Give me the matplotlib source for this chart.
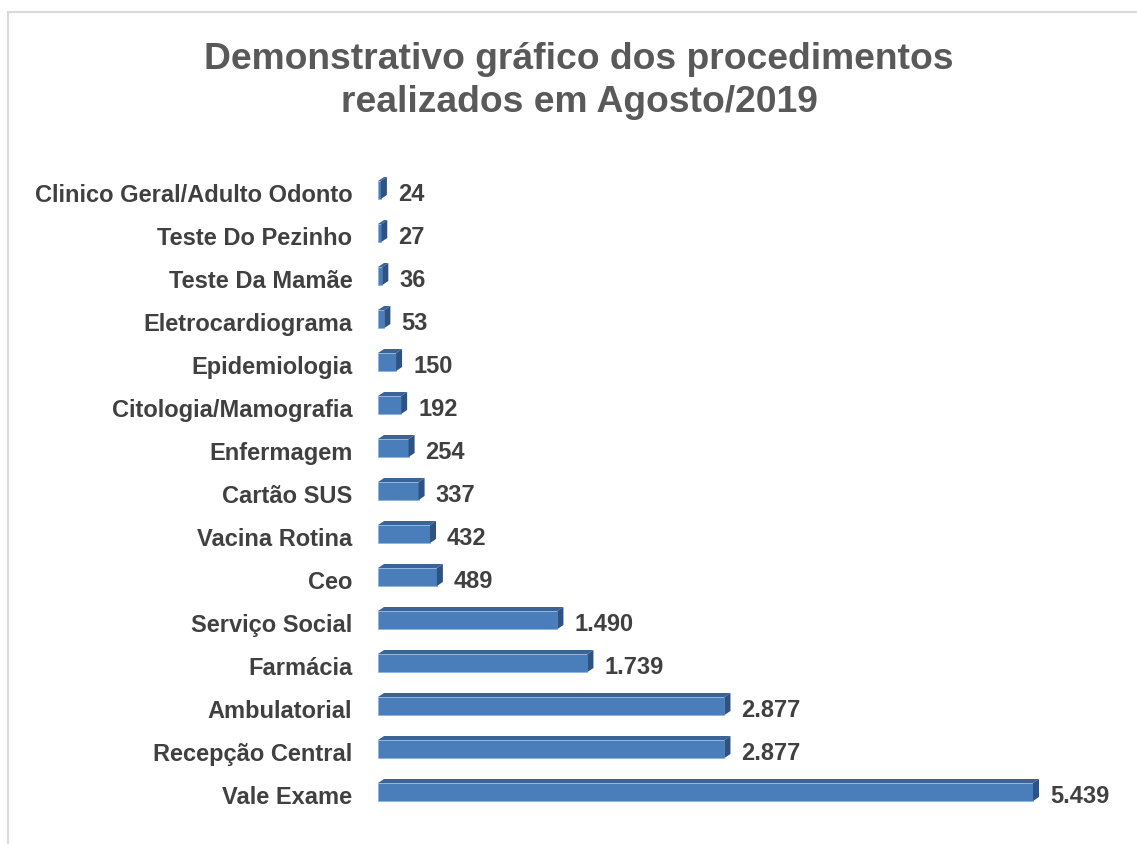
import matplotlib.pyplot as plt
import matplotlib as mp
from matplotlib.patches import Polygon, Rectangle

# data (bottom to top)
categorias = ['Vale Exame', 'Recepção Central', 'Ambulatorial', 'Farmácia',
              'Serviço Social', 'Ceo', 'Vacina Rotina', 'Cartão SUS',
              'Enfermagem', 'Citologia/Mamografia', 'Epidemiologia',
              'Eletrocardiograma', 'Teste Da Mamãe', 'Teste Do Pezinho',
              'Clinico Geral/Adulto Odonto']
valores = [5439, 2877, 2877, 1739, 1490, 489, 432, 337, 254, 192, 150,
           53, 36, 27, 24]
titulo = 'Demonstrativo gráfico dos procedimentos\nrealizados em Agosto/2019'

mp.rcParams['font.family'] = ['Liberation Sans', 'DejaVu Sans']

W, H = 1137, 845
fig = plt.figure(figsize=(W / 100, H / 100), dpi=100)

# outer chart border (light gray), partly cut off like the reference
fig.patches.append(Rectangle((8 / W, -0.05), 1.2, (H - 13) / H + 0.05,
                             transform=fig.transFigure, fill=False,
                             edgecolor='#d9d9d9', linewidth=1.5))

xmax = 6000.0
px_per_unit = 655.0 / 5439.0
ax_w = xmax * px_per_unit
n = len(categorias)
row = 43.0
ax = fig.add_axes((378 / W, (H - 795 - row / 2) / H, ax_w / W, n * row / H))
ax.set_xlim(0, xmax)
ax.set_ylim(-0.5, n - 0.5)

front = '#4a7ebb'
topc = '#3b6496'
side = '#2e5282'
h = 18.0 / row
dx = 6.0 / px_per_unit
dy = 4.0 / row
lift = 2.0 / row  # bars sit slightly above the label centre

ys = list(range(n))
bar_y = [y + lift for y in ys]
ax.barh(bar_y, valores, height=h, color=front, edgecolor='#8eb4e3',
        linewidth=0.6, zorder=2)
for y, v in zip(bar_y, valores):
    t = y + h / 2
    b = y - h / 2
    ax.add_patch(Polygon([(0, t), (v, t), (v + dx, t + dy), (dx, t + dy)],
                         closed=True, facecolor=topc, edgecolor='none',
                         zorder=3))
    ax.add_patch(Polygon([(v, b), (v + dx, b + dy), (v + dx, t + dy), (v, t)],
                         closed=True, facecolor=side, edgecolor='none',
                         zorder=3))
for y, v in zip(ys, valores):
    lbl = f'{v:,}'.replace(',', '.')
    ax.text(v + 17 / px_per_unit, y - 1.5 / row, lbl, ha='left', va='center',
            fontsize=17, fontweight='bold', color='#404040')

ax.set_yticks(ys)
ax.set_yticklabels(categorias, fontsize=17, fontweight='bold', color='#404040')
ax.tick_params(axis='y', length=0, pad=18.5)
ax.set_xticks([])
for s in ax.spines.values():
    s.set_visible(False)
ax.patch.set_alpha(0)

fig.text(579 / W, 1 - 81 / H, titulo, ha='center', va='center',
         fontsize=26.8, fontweight='bold', color='#595959', linespacing=1.32)

fig.savefig('out.png', dpi=100, facecolor='white')
